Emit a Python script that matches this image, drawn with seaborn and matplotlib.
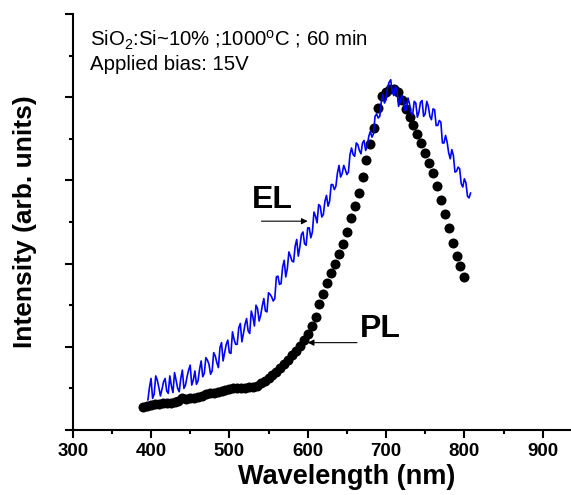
import matplotlib
matplotlib.use("Agg")
import matplotlib.pyplot as plt
from matplotlib.ticker import MultipleLocator, NullFormatter
import seaborn as sns

el_wavelength = list(range(396, 809, 2))
el_intensity = [0.36, 0.51, 0.62, 0.38, 0.43, 0.65, 0.60, 0.51, 0.41, 0.49, 0.58, 0.62,
                0.47, 0.44, 0.65, 0.53, 0.45, 0.69, 0.60, 0.50, 0.46, 0.62, 0.72, 0.50,
                0.54, 0.64, 0.72, 0.78, 0.54, 0.60, 0.71, 0.55, 0.59, 0.73, 0.83, 0.64,
                0.68, 0.87, 0.84, 0.79, 0.67, 0.71, 0.93, 0.89, 0.81, 0.75, 0.99, 1.05,
                0.83, 0.93, 1.03, 1.08, 0.93, 0.92, 1.18, 1.09, 1.03, 1.03, 1.23, 1.28,
                1.06, 1.16, 1.27, 1.34, 1.19, 1.16, 1.43, 1.36, 1.25, 1.50, 1.46, 1.31,
                1.38, 1.49, 1.58, 1.43, 1.42, 1.65, 1.63, 1.60, 1.55, 1.58, 1.84, 1.85,
                1.75, 1.76, 1.96, 2.04, 1.84, 1.94, 2.14, 2.09, 2.03, 2.02, 2.21, 2.29,
                2.09, 2.20, 2.35, 2.38, 2.24, 2.22, 2.43, 2.43, 2.31, 2.38, 2.62, 2.57,
                2.49, 2.71, 2.69, 2.56, 2.59, 2.75, 2.82, 2.69, 2.75, 2.95, 2.95, 2.89,
                2.93, 3.09, 3.18, 3.04, 3.08, 3.18, 3.13, 3.07, 3.10, 3.31, 3.39, 3.31,
                3.29, 3.45, 3.43, 3.36, 3.32, 3.45, 3.48, 3.36, 3.41, 3.53, 3.59, 3.52,
                3.56, 3.77, 3.80, 3.75, 3.77, 3.95, 4.03, 3.93, 3.97, 4.12, 4.18, 4.21,
                4.06, 4.02, 4.13, 4.08, 3.89, 3.94, 4.02, 3.99, 3.84, 3.85, 3.99, 3.92,
                3.81, 3.79, 3.95, 3.93, 3.76, 3.82, 3.94, 3.96, 3.77, 3.80, 3.95, 3.89,
                3.77, 3.73, 3.86, 3.85, 3.66, 3.66, 3.72, 3.70, 3.45, 3.45, 3.54, 3.46,
                3.33, 3.26, 3.37, 3.30, 3.10, 3.11, 3.16, 3.14, 2.96, 2.92, 3.02, 2.97,
                2.81, 2.79, 2.85]

# PL spectrum (black dots)
pl_wavelength = [390, 395, 400, 405, 410, 415, 420, 425, 430, 435, 440, 445, 450, 455,
                 460, 465, 470, 475, 480, 485, 490, 495, 500, 505, 510, 515, 520, 525,
                 530, 535, 540, 545, 550, 555, 560, 565, 570, 575, 580, 585, 590, 595,
                 600, 605, 610, 615, 620, 625, 630, 635, 640, 645, 650, 655, 660, 665,
                 670, 675, 680, 685, 690, 695, 700, 705, 710, 715, 720, 725, 730, 735,
                 740, 745, 750, 755, 760, 765, 770, 775, 780, 785, 790, 795, 800]
pl_intensity = [0.28, 0.29, 0.30, 0.31, 0.31, 0.32, 0.32, 0.33, 0.34, 0.35, 0.38, 0.37,
                0.38, 0.39, 0.40, 0.41, 0.43, 0.44, 0.44, 0.46, 0.47, 0.48, 0.49, 0.50,
                0.50, 0.51, 0.51, 0.52, 0.52, 0.53, 0.56, 0.59, 0.62, 0.66, 0.70, 0.75,
                0.79, 0.84, 0.90, 0.95, 1.01, 1.08, 1.15, 1.25, 1.36, 1.51, 1.63, 1.77,
                1.89, 2.00, 2.12, 2.24, 2.38, 2.55, 2.69, 2.85, 3.04, 3.25, 3.44, 3.63,
                3.87, 4.01, 4.06, 4.10, 4.10, 4.06, 3.97, 3.86, 3.76, 3.67, 3.56, 3.45,
                3.33, 3.21, 3.09, 2.93, 2.76, 2.60, 2.43, 2.25, 2.09, 1.97, 1.84]

x_ticks = [300, 400, 500, 600, 700, 800, 900]

sns.set_style("ticks")
plt.rcParams['font.family'] = ['Liberation Sans', 'DejaVu Sans']
plt.rcParams['mathtext.fontset'] = 'custom'
plt.rcParams['mathtext.rm'] = 'Liberation Sans'
plt.rcParams['mathtext.it'] = 'Liberation Sans'
plt.rcParams['mathtext.bf'] = 'Liberation Sans:bold'
for key in ['text.color', 'axes.labelcolor', 'xtick.color', 'ytick.color', 'axes.edgecolor']:
    plt.rcParams[key] = 'black'

fig = plt.figure(figsize=(5.71, 4.95), dpi=100)
# axis runs on to 1000 nm, cut off by the right edge like the original
ax = fig.add_axes([0.1273, 0.1313, 0.9603, 0.8404])

sns.scatterplot(x=pl_wavelength, y=pl_intensity, color='black', s=52,
                linewidth=0, ax=ax, zorder=2)
sns.lineplot(x=el_wavelength, y=el_intensity, color='#0000ff', linewidth=1.2,
             ax=ax, zorder=3)

ax.set_xlim(300, 1000)
ax.set_ylim(0, 5)
ax.set_xticks(x_ticks)
ax.set_xticks([350, 450, 550, 650, 750, 850, 950], minor=True)
ax.yaxis.set_major_locator(MultipleLocator(1))
ax.yaxis.set_minor_locator(MultipleLocator(0.5))
ax.yaxis.set_major_formatter(NullFormatter())

sns.despine(ax=ax)
for s in ['left', 'bottom']:
    ax.spines[s].set_linewidth(1.5)
ax.tick_params(which='major', direction='out', length=6, width=1.5, pad=3.5,
               labelsize=13.5)
ax.tick_params(which='minor', direction='out', length=3, width=1.5)
for lab in ax.get_xticklabels():
    lab.set_fontweight('bold')

ax.set_xlabel("Wavelength (nm)", fontsize=19.5, fontweight='bold')
ax.set_ylabel("Intensity (arb. units)", fontsize=19, fontweight='bold')
ax.xaxis.set_label_coords(0.5, -0.082)
ax.yaxis.set_label_coords(-0.065, 0.5)

ax.text(0.032, 0.921, r"SiO$_2$:Si~10% ;1000$^{\rm o}$C ; 60 min", transform=ax.transAxes,
        fontsize=14.7, va='baseline', ha='left')
ax.text(0.032, 0.866, "Applied bias: 15V", transform=ax.transAxes,
        fontsize=14.7, va='baseline', ha='left')

arrow = dict(arrowstyle='-|>', color='black', lw=0.8, mutation_scale=9,
             shrinkA=0, shrinkB=0)
ax.annotate("", xy=(600, 2.51), xytext=(541, 2.51), arrowprops=arrow)
ax.annotate("", xy=(600, 1.05), xytext=(663, 1.05), arrowprops=arrow)
ax.text(529, 2.67, "EL", fontsize=23, fontweight='bold', va='baseline')
ax.text(667, 1.12, "PL", fontsize=23, fontweight='bold', va='baseline')

fig.savefig("out.png", dpi=100)
